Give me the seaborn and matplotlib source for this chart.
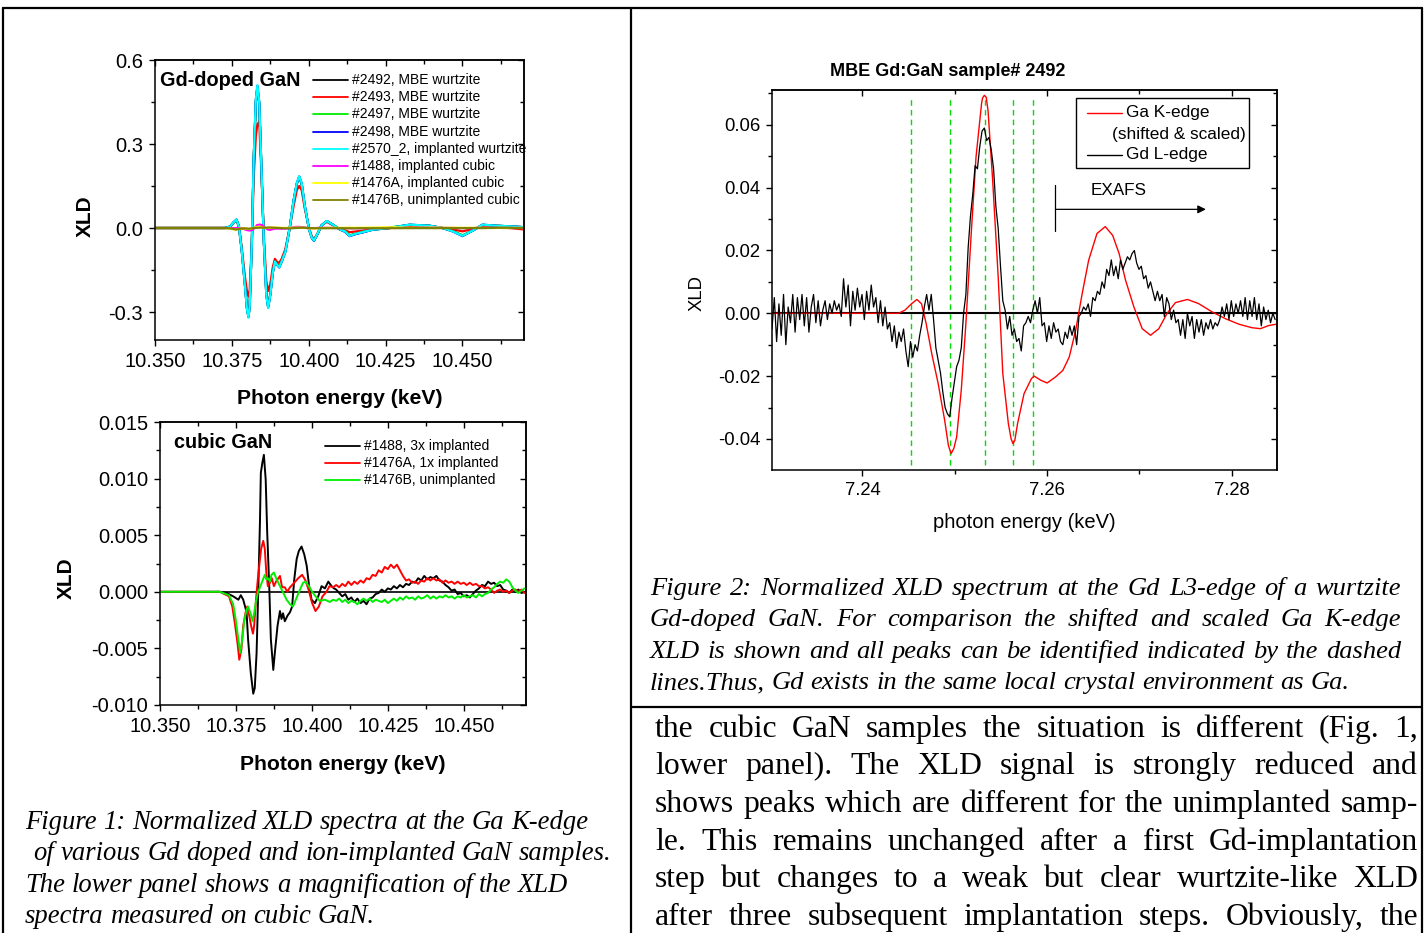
import matplotlib
matplotlib.use('Agg')
import numpy as np
import seaborn as sns
import matplotlib.pyplot as plt
from matplotlib.lines import Line2D
from matplotlib.patches import Rectangle
from matplotlib.ticker import MultipleLocator, FixedLocator, FormatStrFormatter

# ------------------------------------------------------------------ data
# Fig. 1 upper panel: wurtzite Gd-doped GaN, Ga K-edge XLD
wz_energy = [10.3500, 10.3646, 10.3727, 10.3744, 10.3755, 10.3765, 10.3773, 10.3782, 10.3792, 10.3799,
             10.3804, 10.3808, 10.3815, 10.3821, 10.3828, 10.3833, 10.3839, 10.3846, 10.3854, 10.3862,
             10.3868, 10.3875, 10.3883, 10.3890, 10.3896, 10.3904, 10.3912, 10.3924, 10.3938, 10.3951,
             10.3961, 10.3969, 10.3977, 10.3987, 10.4001, 10.4010, 10.4017, 10.4029, 10.4042, 10.4059,
             10.4078, 10.4101, 10.4117, 10.4133, 10.4155, 10.4175, 10.4208, 10.4263, 10.4328, 10.4393,
             10.4435, 10.4468, 10.4500, 10.4532, 10.4565, 10.4610, 10.4653, 10.4698]
xld_2492 = [0, 0, 0, 0.005, 0.019, 0.029, 0.005, -0.078, -0.195, -0.285, -0.315, -0.275, -0.050, 0.245,
            0.450, 0.500, 0.445, 0.215, -0.050, -0.235, -0.280, -0.235, -0.158, -0.118, -0.128, -0.137,
            -0.118, -0.083, 0.000, 0.098, 0.157, 0.182, 0.157, 0.079, -0.005, -0.034, -0.044, -0.020,
            0.010, 0.024, 0.012, -0.005, -0.012, -0.027, -0.020, -0.015, -0.006, 0.000, 0.011, 0.008,
            0.000, -0.011, -0.027, -0.010, 0.011, 0.008, 0.006, 0.003]
xld_2493 = [0, 0, 0, 0.004, 0.018, 0.028, 0.005, -0.070, -0.170, -0.225, -0.245, -0.220, -0.050, 0.180,
            0.330, 0.370, 0.380, 0.200, -0.030, -0.190, -0.225, -0.200, -0.140, -0.110, -0.120, -0.125,
            -0.110, -0.075, 0.000, 0.080, 0.135, 0.150, 0.135, 0.070, 0.000, -0.030, -0.040, -0.020,
            0.010, 0.022, 0.010, -0.004, -0.008, -0.015, -0.012, -0.010, -0.004, 0.000, 0.006, 0.004,
            0.000, -0.005, -0.012, -0.004, 0.006, 0.003, 0.000, -0.005]
xld_2497 = [0, 0, 0, 0.005, 0.019, 0.030, 0.005, -0.079, -0.198, -0.287, -0.318, -0.278, -0.050, 0.248,
            0.455, 0.505, 0.447, 0.218, -0.050, -0.238, -0.283, -0.238, -0.159, -0.119, -0.129, -0.139,
            -0.119, -0.084, 0.000, 0.099, 0.158, 0.183, 0.158, 0.079, -0.005, -0.035, -0.044, -0.020,
            0.010, 0.025, 0.012, -0.004, -0.010, -0.026, -0.020, -0.014, -0.006, 0.002, 0.011, 0.008,
            0.000, -0.011, -0.026, -0.010, 0.011, 0.008, 0.006, 0.003]
xld_2498 = [0, 0, 0, 0.005, 0.020, 0.030, 0.005, -0.080, -0.199, -0.288, -0.318, -0.279, -0.050, 0.249,
            0.458, 0.508, 0.448, 0.219, -0.050, -0.239, -0.284, -0.239, -0.160, -0.120, -0.131, -0.141,
            -0.121, -0.085, 0.000, 0.100, 0.159, 0.184, 0.159, 0.080, -0.005, -0.036, -0.046, -0.021,
            0.010, 0.025, 0.012, -0.005, -0.013, -0.029, -0.021, -0.016, -0.006, 0.000, 0.012, 0.008,
            0.000, -0.012, -0.029, -0.010, 0.012, 0.008, 0.006, 0.003]
xld_2570 = [0, 0, 0, 0.005, 0.020, 0.030, 0.005, -0.080, -0.200, -0.290, -0.320, -0.280, -0.050, 0.250,
            0.460, 0.510, 0.450, 0.220, -0.050, -0.240, -0.285, -0.240, -0.160, -0.120, -0.130, -0.140,
            -0.120, -0.085, 0.000, 0.100, 0.160, 0.185, 0.160, 0.080, -0.005, -0.035, -0.045, -0.020,
            0.010, 0.025, 0.012, -0.005, -0.012, -0.028, -0.020, -0.015, -0.006, 0.000, 0.012, 0.008,
            0.000, -0.012, -0.028, -0.010, 0.012, 0.008, 0.006, 0.003]

# Fig. 1 lower panel: cubic GaN (also drawn in the upper panel)
# edge region (explicit energies) + tail measured on a 1 eV grid
c1488_edge_energy = [10.3500, 10.3697, 10.3719, 10.3741, 10.3758, 10.3766, 10.3774, 10.3785, 10.3790, 10.3799,
                     10.3807, 10.3812, 10.3818, 10.3823, 10.3829, 10.3832, 10.3837, 10.3842, 10.3848, 10.3853,
                     10.3860, 10.3865, 10.3873, 10.3878, 10.3887, 10.3895, 10.3900, 10.3905, 10.3911, 10.3920,
                     10.3928, 10.3935, 10.3942, 10.3950, 10.3957, 10.3966, 10.3975, 10.3983, 10.3991, 10.3999,
                     10.4010, 10.4021, 10.4032, 10.4043, 10.4054, 10.4065, 10.4073]
c1488_edge_xld = [0, 0, -0.0001, -0.0004, -0.0007, -0.0003, -0.0007, -0.0018, -0.0042, -0.0072,
                  -0.0090, -0.0085, -0.0054, -0.0004, 0.0061, 0.0105, 0.0114, 0.0121, 0.0099, 0.0052,
                  0.0002, -0.0042, -0.0069, -0.0054, -0.0030, -0.0017, -0.0024, -0.0019, -0.0026, -0.0021,
                  -0.0018, -0.0013, 0.0011, 0.0029, 0.0036, 0.0040, 0.0033, 0.0023, 0.0005, -0.0007,
                  -0.0010, -0.0004, 0.0005, 0.0003, 0.0009, 0.0005, 0.0003]

c1476a_edge_energy = [10.3500, 10.3697, 10.3727, 10.3738, 10.3746, 10.3755, 10.3761, 10.3768, 10.3774, 10.3782,
                      10.3787, 10.3793, 10.3800, 10.3806, 10.3810, 10.3816, 10.3822, 10.3828, 10.3833, 10.3840,
                      10.3845, 10.3850, 10.3855, 10.3862, 10.3868, 10.3875, 10.3882, 10.3895, 10.3902, 10.3911,
                      10.3919, 10.3928, 10.3942, 10.3955, 10.3968, 10.3979, 10.3989, 10.4001, 10.4012, 10.4023,
                      10.4035, 10.4048, 10.4058, 10.4070]
c1476a_edge_xld = [0, 0, -0.0004, -0.0013, -0.0027, -0.0045, -0.0060, -0.0051, -0.0030, -0.0018,
                   -0.0013, -0.0020, -0.0030, -0.0037, -0.0030, -0.0007, 0.0011, 0.0026, 0.0038, 0.0045,
                   0.0038, 0.0017, 0.0005, 0.0008, 0.0012, 0.0005, 0.0009, 0.0014, 0.0004, 0.0004,
                   0.0000, 0.0004, 0.0008, 0.0012, 0.0015, 0.0010, 0.0002, -0.0010, -0.0017, -0.0013,
                   -0.0004, 0.0000, 0.0005, 0.0004]

c1476b_edge_energy = [10.3500, 10.3697, 10.3727, 10.3741, 10.3749, 10.3758, 10.3764, 10.3771, 10.3777, 10.3785,
                      10.3790, 10.3798, 10.3805, 10.3810, 10.3815, 10.3823, 10.3835, 10.3845, 10.3850, 10.3856,
                      10.3862, 10.3867, 10.3875, 10.3884, 10.3895, 10.3906, 10.3917, 10.3928, 10.3938, 10.3950,
                      10.3961, 10.3971, 10.3979, 10.3990, 10.4001, 10.4012, 10.4026, 10.4043, 10.4059, 10.4070]
c1476b_edge_xld = [0, 0, -0.0003, -0.0011, -0.0024, -0.0042, -0.0054, -0.0042, -0.0026, -0.0016,
                   -0.0013, -0.0019, -0.0026, -0.0019, -0.0010, 0.0000, 0.0008, 0.0015, 0.0011, 0.0012,
                   0.0009, 0.0015, 0.0017, 0.0011, 0.0005, -0.0001, -0.0007, -0.0011, -0.0013, -0.0005,
                   0.0002, 0.0008, 0.0009, 0.0005, 0.0000, -0.0004, -0.0008, -0.0007, -0.0009, -0.0007]

tail_start, tail_step = 10.4080, 0.0010
c1488_tail_xld = [0.0002, -0.0001, -0.0004, -0.0002, -0.0007, -0.0005, -0.0009, -0.0006, -0.0010, -0.0008,
                  -0.0011, -0.0006, -0.0005, -0.0002, -0.0001, 0.0002, 0.0000, 0.0003, 0.0002, 0.0005,
                  0.0003, 0.0006, 0.0004, 0.0007, 0.0006, 0.0009, 0.0008, 0.0012, 0.0010, 0.0014,
                  0.0011, 0.0013, 0.0012, 0.0014, 0.0010, 0.0009, 0.0006, 0.0004, 0.0001, 0.0002,
                  -0.0002, -0.0001, -0.0004, -0.0003, -0.0005, -0.0002, 0.0001, 0.0003, 0.0006, 0.0005,
                  0.0009, 0.0007, 0.0008, 0.0005, 0.0006, 0.0002, 0.0001, -0.0001, 0.0002, 0.0000,
                  0.0002, -0.0001, 0.0000]
c1476a_tail_xld = [0.0006, 0.0004, 0.0007, 0.0005, 0.0009, 0.0006, 0.0009, 0.0007, 0.0010, 0.0008,
                   0.0012, 0.0011, 0.0015, 0.0014, 0.0019, 0.0017, 0.0022, 0.0020, 0.0024, 0.0021,
                   0.0024, 0.0019, 0.0014, 0.0010, 0.0011, 0.0008, 0.0009, 0.0007, 0.0010, 0.0009,
                   0.0012, 0.0010, 0.0012, 0.0010, 0.0011, 0.0008, 0.0010, 0.0008, 0.0009, 0.0007,
                   0.0009, 0.0007, 0.0008, 0.0006, 0.0008, 0.0006, 0.0007, 0.0005, 0.0005, 0.0003,
                   0.0004, 0.0002, -0.0001, 0.0001, 0.0002, 0.0000, 0.0001, -0.0001, 0.0001, 0.0002,
                   0.0000, 0.0002, -0.0001]
c1476b_tail_xld = [-0.0008, -0.0006, -0.0009, -0.0007, -0.0010, -0.0008, -0.0009, -0.0011, -0.0008, -0.0006,
                   -0.0008, -0.0006, -0.0009, -0.0007, -0.0008, -0.0009, -0.0007, -0.0010, -0.0008, -0.0006,
                   -0.0008, -0.0005, -0.0007, -0.0004, -0.0006, -0.0005, -0.0007, -0.0004, -0.0006, -0.0005,
                   -0.0003, -0.0006, -0.0004, -0.0006, -0.0004, -0.0005, -0.0003, -0.0005, -0.0004, -0.0006,
                   -0.0004, -0.0005, -0.0003, -0.0005, -0.0004, -0.0003, -0.0005, -0.0002, -0.0004, -0.0002,
                   -0.0001, 0.0002, 0.0004, 0.0007, 0.0009, 0.0008, 0.0011, 0.0009, 0.0004, 0.0001,
                   -0.0001, 0.0001, 0.0003]
tail_energy = list(np.round(tail_start + tail_step * np.arange(len(c1488_tail_xld)), 4))

c1488_energy = c1488_edge_energy + tail_energy
c1488_xld = c1488_edge_xld + c1488_tail_xld
c1476a_energy = c1476a_edge_energy + tail_energy
c1476a_xld = c1476a_edge_xld + c1476a_tail_xld
c1476b_energy = c1476b_edge_energy + tail_energy
c1476b_xld = c1476b_edge_xld + c1476b_tail_xld

wz_labels = ['#2492, MBE wurtzite', '#2493, MBE wurtzite', '#2497, MBE wurtzite', '#2498, MBE wurtzite',
             '#2570_2, implanted wurtzite', '#1488, implanted cubic', '#1476A, implanted cubic',
             '#1476B, unimplanted cubic']
wz_colors = ['#000000', '#ff0000', '#00ee00', '#0000ff', '#00ffff', '#ff00ff', '#ffff00', '#808000']
cubic_labels = ['#1488, 3x implanted', '#1476A, 1x implanted', '#1476B, unimplanted']
cubic_colors = ['#000000', '#ff0000', '#00ee00']

# Fig. 2: Ga K-edge (shifted & scaled) and Gd L-edge XLD
gak_energy = [7.2302, 7.2439, 7.2446, 7.2453, 7.2459, 7.2464, 7.2469, 7.2475, 7.2482, 7.2489,
              7.2493, 7.2496, 7.2499, 7.2502, 7.2507, 7.2512, 7.2518, 7.2523, 7.2529, 7.2530,
              7.2532, 7.2534, 7.2536, 7.2541, 7.2547, 7.2552, 7.2558, 7.2561, 7.2563, 7.2565,
              7.2568, 7.2575, 7.2583, 7.2586, 7.2593, 7.2600, 7.2609, 7.2617, 7.2624, 7.2631,
              7.2638, 7.2645, 7.2654, 7.2663, 7.2671, 7.2678, 7.2685, 7.2694, 7.2703, 7.2712,
              7.2721, 7.2730, 7.2739, 7.2752, 7.2764, 7.2779, 7.2793, 7.2808, 7.2822, 7.2831,
              7.2840, 7.2848]
gak_xld = [0.0, 0.0, 0.0010, 0.0030, 0.0044, 0.0030, -0.0033, -0.0128, -0.0224, -0.0340,
           -0.0420, -0.0447, -0.0430, -0.0394, -0.0245, -0.0033, 0.0264, 0.0498, 0.0668, 0.0685,
           0.0694, 0.0688, 0.0646, 0.0424, 0.0116, -0.0192, -0.0351, -0.0400, -0.0415, -0.0405,
           -0.0351, -0.0256, -0.0208, -0.0200, -0.0213, -0.0222, -0.0203, -0.0182, -0.0139, -0.0053,
           0.0063, 0.0169, 0.0254, 0.0276, 0.0248, 0.0190, 0.0105, 0.0020, -0.0049, -0.0070,
           -0.0049, 0.0000, 0.0034, 0.0044, 0.0031, 0.0004, -0.0017, -0.0035, -0.0046, -0.0049,
           -0.0039, -0.0035]

gd_energy_start = 7.2302   # keV, first point of the Gd L3-edge scan
gd_energy_step = 0.00025   # keV, scan step
gd_xld = [-0.005, 0.005, -0.009, 0.003, -0.007, 0.006, -0.010, 0.002, -0.003, 0.006,
          -0.006, 0.005, -0.002, 0.006, -0.004, 0.005, -0.006, 0.002, 0.006, -0.003,
          0.004, -0.004, 0.001, 0.004, -0.002, 0.003, 0.000, 0.004, 0.001, 0.003,
          -0.001, 0.011, 0.002, 0.009, -0.004, 0.007, 0.001, 0.008, 0.002, 0.006,
          -0.002, 0.007, 0.001, 0.009, 0.002, 0.005, -0.003, 0.004, -0.004, 0.002,
          -0.005, -0.003, -0.009, -0.004, -0.011, -0.006, -0.009, -0.005, -0.012, -0.017,
          -0.009, -0.014, -0.010, -0.012, -0.007, -0.003, 0.002, 0.006, 0.001, 0.006,
          -0.002, -0.011, -0.015, -0.019, -0.025, -0.030, -0.032, -0.033, -0.027, -0.022,
          -0.017, -0.015, -0.011, 0.000, 0.006, 0.021, 0.031, 0.038, 0.047, 0.046,
          0.053, 0.058, 0.059, 0.055, 0.056, 0.052, 0.046, 0.034, 0.027, 0.015,
          0.004, 0.001, -0.005, -0.001, -0.007, -0.005, -0.009, -0.008, -0.012, -0.004,
          -0.003, -0.001, -0.003, 0.001, 0.004, 0.000, 0.005, -0.004, -0.003, -0.009,
          -0.004, -0.008, -0.003, -0.006, -0.005, -0.009, -0.010, -0.006, -0.008, -0.004,
          -0.007, -0.004, -0.010, -0.001, 0.000, 0.002, 0.001, 0.003, -0.001, 0.005,
          0.004, 0.007, 0.006, 0.010, 0.008, 0.014, 0.012, 0.017, 0.012, 0.015,
          0.011, 0.017, 0.014, 0.016, 0.018, 0.017, 0.019, 0.020, 0.016, 0.014,
          0.015, 0.011, 0.012, 0.008, 0.010, 0.007, 0.004, 0.007, 0.004, 0.006,
          -0.001, 0.005, 0.003, -0.002, 0.001, -0.003, -0.002, -0.007, -0.002, -0.008,
          0.000, -0.004, -0.001, -0.008, -0.002, -0.006, -0.002, -0.007, -0.003, -0.005,
          -0.002, -0.005, -0.003, -0.004, -0.002, 0.002, -0.001, 0.003, -0.002, 0.004,
          -0.001, 0.003, 0.000, 0.004, -0.001, 0.005, -0.002, 0.004, -0.001, 0.005,
          -0.002, 0.003, -0.004, 0.002, -0.002, 0.001, -0.003, 0.000, -0.002]
gd_energy = np.round(gd_energy_start + gd_energy_step * np.arange(len(gd_xld)), 5)

peak_energies = [7.2453, 7.2495, 7.2533, 7.2563, 7.2585]   # dashed identification lines
exafs_start, exafs_end, exafs_level = 7.2609, 7.2772, 0.0331

# tick values
f1_xticks = [10.350, 10.375, 10.400, 10.425, 10.450]
f1_yticks = [-0.3, 0.0, 0.3, 0.6]
f1b_yticks = [-0.010, -0.005, 0.000, 0.005, 0.010, 0.015]
f2_xticks = [7.24, 7.26, 7.28]
f2_yticks = [-0.04, -0.02, 0.00, 0.02, 0.04, 0.06]

# text
fig1_caption = ["Figure 1: Normalized XLD spectra at the Ga K-edge",
                " of various Gd doped and ion-implanted GaN samples.",
                "The lower panel shows a magnification of the XLD",
                "spectra measured on cubic GaN."]
fig2_caption = ["Figure 2: Normalized XLD spectrum at the Gd L3-edge of a wurtzite",
                "Gd-doped GaN. For comparison the shifted and scaled Ga K-edge",
                "XLD is shown and all peaks can be identified indicated by the dashed",
                "lines.Thus, Gd exists in the same local crystal environment as Ga."]
body_text = ["the cubic GaN samples the situation is different (Fig. 1,",
             "lower panel). The XLD signal is strongly reduced and",
             "shows peaks which are different for the unimplanted samp-",
             "le. This remains unchanged after a first Gd-implantation",
             "step but changes to a weak but clear wurtzite-like XLD",
             "after three subsequent implantation steps. Obviously, the"]

# ------------------------------------------------------------------ figure
sns.set_theme(style='ticks')
plt.rcParams['font.family'] = ['Liberation Sans', 'DejaVu Sans']
plt.rcParams['axes.unicode_minus'] = False
plt.rcParams['text.color'] = 'black'

W, H = 1425, 933
fig = plt.figure(figsize=(W / 100, H / 100), dpi=100)
fig.patch.set_facecolor('white')
renderer = fig.canvas.get_renderer()


def fx(px):
    return px / W


def fy(py):
    return 1 - py / H


def add_axes_px(l, t, r, b):
    return fig.add_axes([fx(l), fy(b), (r - l) / W, (b - t) / H])


def style_axes(ax, xt, xminor, yt, yminor, xfmt, yfmt, fs):
    ax.set_facecolor('white')
    for s in ax.spines.values():
        s.set_visible(True)
        s.set_color('black')
        s.set_linewidth(1.1)
    ax.xaxis.set_major_locator(FixedLocator(xt))
    ax.yaxis.set_major_locator(FixedLocator(yt))
    ax.xaxis.set_minor_locator(MultipleLocator(xminor))
    ax.yaxis.set_minor_locator(MultipleLocator(yminor))
    ax.xaxis.set_major_formatter(FormatStrFormatter(xfmt))
    ax.yaxis.set_major_formatter(FormatStrFormatter(yfmt))
    ax.tick_params(which='both', direction='out', top=False, right=False, colors='black',
                   width=1.0, labelsize=fs, pad=4.3)
    ax.tick_params(which='major', length=4.3)
    ax.tick_params(which='minor', length=2.8)
    ax.set_xlabel('')
    ax.set_ylabel('')
    top = ax.secondary_xaxis('top')
    top.xaxis.set_major_locator(FixedLocator(xt))
    top.xaxis.set_minor_locator(MultipleLocator(xminor))
    top.tick_params(which='both', direction='in', labeltop=False, width=1.0, colors='black')
    top.tick_params(which='major', length=4.3)
    top.tick_params(which='minor', length=2.8)
    right = ax.secondary_yaxis('right')
    right.yaxis.set_major_locator(FixedLocator(yt))
    right.yaxis.set_minor_locator(MultipleLocator(yminor))
    right.tick_params(which='both', direction='in', labelright=False, width=1.0, colors='black')
    right.tick_params(which='major', length=4.3)
    right.tick_params(which='minor', length=2.8)


def fig_line(x0, y0, x1, y1, color='black', lw=1.5):
    fig.add_artist(Line2D([fx(x0), fx(x1)], [fy(y0), fy(y1)], transform=fig.transFigure,
                          color=color, lw=lw))


def px_legend(labels, colors, xl0, xl1, xt, y0, dy, fs, lw):
    for i, (lab, col) in enumerate(zip(labels, colors)):
        y = y0 + i * dy
        fig_line(xl0, y, xl1, y, color=col, lw=lw)
        fig.text(fx(xt), fy(y), lab, fontsize=fs, va='center', ha='left')


# ---------------- Fig. 1 upper panel
ax1 = add_axes_px(155, 60, 524, 340)
wz_series = [xld_2492, xld_2493, xld_2497, xld_2498, xld_2570]
for ys, col in zip(wz_series, wz_colors[:5]):
    sns.lineplot(x=wz_energy, y=ys, color=col, linewidth=1.6, estimator=None, sort=False, ax=ax1)
for (xs, ys), col in zip([(c1488_energy, c1488_xld), (c1476a_energy, c1476a_xld),
                          (c1476b_energy, c1476b_xld)], wz_colors[5:]):
    sns.lineplot(x=xs, y=ys, color=col, linewidth=1.6, estimator=None, sort=False, ax=ax1)
ax1.set_xlim(10.350, 10.470)
ax1.set_ylim(-0.4, 0.6)
style_axes(ax1, f1_xticks, 0.0125, f1_yticks, 0.15, '%.3f', '%.1f', 14.5)
fig.text(fx(160), fy(80), 'Gd-doped GaN', fontsize=14.3, fontweight='bold', va='center', ha='left')
px_legend(wz_labels, wz_colors, 313, 348, 352, 80, 17.2, 10, 1.3)
fig.text(fx(85), fy(216), 'XLD', fontsize=15, fontweight='bold', rotation=90, va='center', ha='center')
fig.text(fx(340), fy(398), 'Photon energy (keV)', fontsize=15.2, fontweight='bold', va='center', ha='center')

# ---------------- Fig. 1 lower panel
ax2 = add_axes_px(160, 422, 526, 705)
ax2.axhline(0, color='black', lw=1.2, zorder=1)
for (xs, ys), col in zip([(c1488_energy, c1488_xld), (c1476a_energy, c1476a_xld),
                          (c1476b_energy, c1476b_xld)], cubic_colors):
    sns.lineplot(x=xs, y=ys, color=col, linewidth=1.4, estimator=None, sort=False, ax=ax2)
ax2.set_xlim(10.350, 10.4705)
ax2.set_ylim(-0.010, 0.015)
style_axes(ax2, f1_xticks, 0.0125, f1b_yticks, 0.0025, '%.3f', '%.3f', 14.5)
fig.text(fx(174), fy(442), 'cubic GaN', fontsize=14.3, fontweight='bold', va='center', ha='left')
px_legend(cubic_labels, cubic_colors, 325, 360, 364, 446, 17, 10, 1.3)
fig.text(fx(66), fy(578), 'XLD', fontsize=15, fontweight='bold', rotation=90, va='center', ha='center')
fig.text(fx(343), fy(764), 'Photon energy (keV)', fontsize=15.2, fontweight='bold', va='center', ha='center')

# ---------------- Fig. 2
ax3 = add_axes_px(772, 90, 1277, 470)
ax3.axhline(0, color='black', lw=1.5, zorder=1)
for e in peak_energies:
    ax3.axvline(e, ymin=0.013, ymax=0.98, color='#00dd00', lw=1.0, dashes=(4, 3), zorder=1.5)
sns.lineplot(x=gak_energy, y=gak_xld, color='#ff0000', linewidth=1.0, estimator=None, sort=False, ax=ax3)
sns.lineplot(x=gd_energy, y=gd_xld, color='black', linewidth=0.9, estimator=None, sort=False, ax=ax3)
ax3.plot([exafs_start, exafs_start], [0.0261, 0.0408], color='black', lw=0.9)
ax3.annotate('', xy=(exafs_end, exafs_level), xytext=(exafs_start, exafs_level),
             arrowprops=dict(arrowstyle='-|>', color='black', lw=0.9, mutation_scale=12,
                             shrinkA=0, shrinkB=0))
ax3.text(7.2677, 0.0390, 'EXAFS', fontsize=12.3, ha='center', va='center')
ax3.set_xlim(7.2302, 7.2849)
ax3.set_ylim(-0.0499, 0.0711)
style_axes(ax3, f2_xticks, 0.01, f2_yticks, 0.01, '%.2f', '%.2f', 13.3)
fig.add_artist(Rectangle((fx(1076), fy(168)), (1249 - 1076) / W, (168 - 98) / H,
                         transform=fig.transFigure, fill=False, edgecolor='black', lw=1.0))
fig_line(1087, 113, 1122, 113, color='#ff0000', lw=1.0)
fig.text(fx(1126), fy(113), 'Ga K-edge', fontsize=12.4, va='center', ha='left')
fig.text(fx(1112), fy(134), '(shifted & scaled)', fontsize=12.4, va='center', ha='left')
fig_line(1087, 155, 1122, 155, color='black', lw=1.0)
fig.text(fx(1126), fy(155), 'Gd L-edge', fontsize=12.4, va='center', ha='left')
fig.text(fx(948), fy(72), 'MBE Gd:GaN sample# 2492', fontsize=13, fontweight='bold', va='center', ha='center')
fig.text(fx(697), fy(293), 'XLD', fontsize=13.3, rotation=90, va='center', ha='center')
fig.text(fx(1024), fy(523), 'photon energy (keV)', fontsize=14.5, va='center', ha='center')

# ---------------- page frame
fig_line(3, 8, 1422, 8, lw=1.6)
fig_line(3, 8, 3, 933, lw=1.6)
fig_line(631, 8, 631, 933, lw=1.6)
fig_line(1422, 8, 1422, 933, lw=1.6)
fig_line(631, 707, 1422, 707, lw=1.6)


# ---------------- serif text blocks
def text_width(s, **kw):
    t = fig.text(0, 0, s, **kw)
    w = t.get_window_extent(renderer).width
    t.remove()
    return w


def fit_size(lines, target, **kw):
    w10 = max(text_width(l.strip(), fontsize=10, **kw) for l in lines)
    return 10 * target / w10


def set_line(s, x0, x1, yb, justify=True, **kw):
    words = s.split()
    widths = [text_width(w, **kw) for w in words]
    if justify and len(words) > 1:
        gap = (x1 - x0 - sum(widths)) / (len(words) - 1)
    else:
        gap = text_width('a b', **kw) - text_width('ab', **kw)
    x = x0
    for w, wd in zip(words, widths):
        fig.text(fx(x), fy(yb), w, va='baseline', ha='left', **kw)
        x += wd + gap


serif = ['Liberation Serif', 'DejaVu Serif']
cap_kw = dict(family=serif, style='italic')
fs1 = fit_size([fig1_caption[0]], 565, **cap_kw)
for line, x0, yb in zip(fig1_caption, [25, 33, 25, 25], [829, 860, 892, 923]):
    set_line(line, x0, None, yb, justify=False, fontsize=fs1, **cap_kw)

fs2 = fit_size(fig2_caption[:3], 751, **cap_kw) * 0.985
for i, (line, yb) in enumerate(zip(fig2_caption, [595, 626, 658, 689])):
    set_line(line, 650, 1401, yb, justify=(i < 3), fontsize=fs2, **cap_kw)

body_kw = dict(family=serif)
fs3 = fit_size(body_text, 763, **body_kw) * 0.985
for line, yb in zip(body_text, [737, 774, 812, 850, 887, 925]):
    set_line(line, 655, 1418, yb, justify=True, fontsize=fs3, **body_kw)

fig.savefig('out.png', dpi=100, facecolor='white')
